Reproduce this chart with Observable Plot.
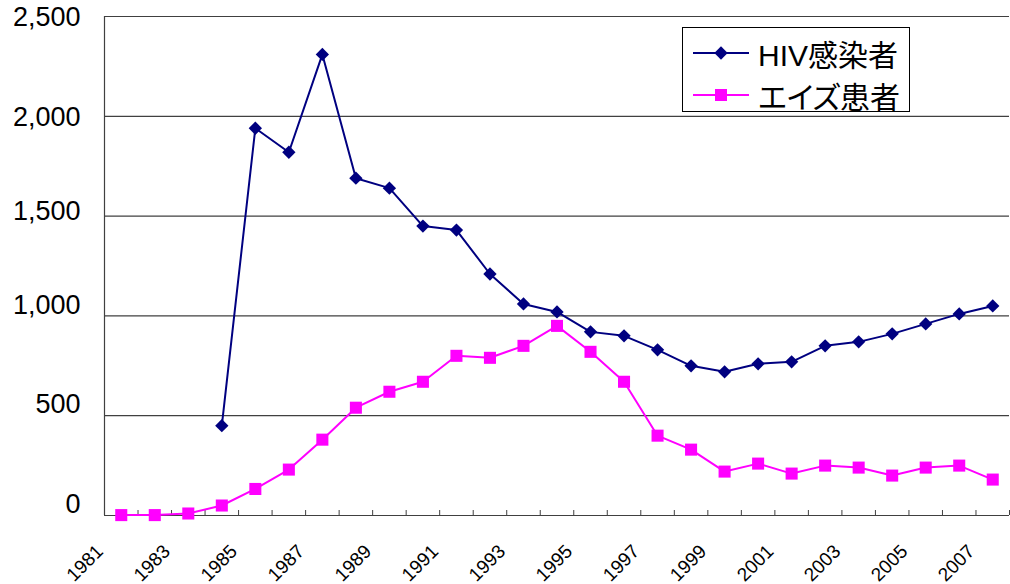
<!DOCTYPE html>
<html><head><meta charset="utf-8">
<script src="https://cdn.jsdelivr.net/npm/d3@7"></script>
<script src="https://cdn.jsdelivr.net/npm/@observablehq/plot@0.6"></script>
<style>
body{margin:0;background:#fff;}
#wrap{position:relative;width:1010px;height:584px;font-family:"Liberation Sans",Arial,"Noto Sans CJK JP",sans-serif;}
#legend{position:absolute;left:682px;top:27px;width:226px;height:83px;border:1px solid #000;background:#fff;box-sizing:content-box;}
.row{position:absolute;left:10px;height:36px;display:flex;align-items:center;font-size:30px;color:#000;white-space:nowrap;}
.row span{margin-left:9px;font-family:"Liberation Sans","Noto Sans CJK JP",sans-serif;font-feature-settings:"palt";}
</style></head>
<body>
<div id="wrap"><div id="chart"></div><div id="legend"></div></div>
<script>
const years = [1981,1982,1983,1984,1985,1986,1987,1988,1989,1990,1991,1992,1993,1994,1995,1996,1997,1998,1999,2000,2001,2002,2003,2004,2005,2006,2007];
const hivYears = [1984,1985,1986,1987,1988,1989,1990,1991,1992,1993,1994,1995,1996,1997,1998,1999,2000,2001,2002,2003,2004,2005,2006,2007];
const hivValues = [450,1940,1820,2310,1690,1640,1450,1430,1210,1060,1020,920,900,830,750,720,760,770,850,870,910,960,1010,1050];
const aidsValues = [2,2,10,50,133,230,380,540,620,670,800,790,850,950,820,670,400,330,220,260,210,250,240,200,240,250,180];
const seriesNames = ["HIV感染者","エイズ患者"];
const seriesColors = ["#000080","#FF00FF"];
const seriesSymbols = ["diamond2","square"];
const yTicks = [0,500,1000,1500,2000,2500];
const yTicksUpper = [2000,2500];
const yTicksMid = [1500];
const yTicksLower = [0,500,1000];
const xLabelYears = [1981,1983,1985,1987,1989,1991,1993,1995,1997,1999,2001,2003,2005,2007];

const hiv = hivYears.map((y,i)=>({year:y,value:hivValues[i]}));
const aids = years.map((y,i)=>({year:y,value:aidsValues[i]}));
const xDomain = [years[0]-0.5, years[years.length-1]+0.5];
const xTickPos = d3.range(years.length+1).map(i=>xDomain[0]+i);
const yAxisOpts = {label:null, tickSize:0, tickPadding:24, fontSize:27, tickFormat:d3.format(",")};

const chart = Plot.plot({
  width:1010, height:584,
  marginLeft:104, marginRight:1, marginTop:16, marginBottom:69,
  style:{fontFamily:'"Liberation Sans", Arial, sans-serif', background:"#fff", color:"#000"},
  x:{type:"linear", domain:xDomain, axis:null},
  y:{domain:[0,2500], axis:null},
  marks:[
    Plot.ruleY(yTicks,{y:d=>d, stroke:"#404040", strokeWidth:1.2}),
    Plot.ruleX([xDomain[0]],{x:d=>d, stroke:"#404040", strokeWidth:1.2}),
    Plot.axisY(yTicksUpper,{...yAxisOpts, dy:1}),
    Plot.axisY(yTicksMid,{...yAxisOpts, dy:-5}),
    Plot.axisY(yTicksLower,{...yAxisOpts, dy:-11}),
    Plot.axisX(xTickPos,{label:null, tickSize:5, dy:-5, tickFormat:()=>"", stroke:"#404040"}),
    Plot.text(xLabelYears,{x:d=>d, text:d=>String(d), frameAnchor:"bottom", rotate:-45, textAnchor:"end", lineAnchor:"bottom", fontSize:19, dx:-17, dy:37, fill:"#000"}),
    Plot.line(aids,{x:"year", y:"value", stroke:seriesColors[1], strokeWidth:2}),
    Plot.dot(aids,{x:"year", y:"value", symbol:seriesSymbols[1], r:6.8, fill:seriesColors[1]}),
    Plot.line(hiv,{x:"year", y:"value", stroke:seriesColors[0], strokeWidth:2}),
    Plot.dot(hiv,{x:"year", y:"value", symbol:seriesSymbols[0], r:6, fill:seriesColors[0]})
  ]
});
document.getElementById("chart").appendChild(chart);

const legend = document.getElementById("legend");
seriesNames.forEach((name,i)=>{
  const row = document.createElement("div");
  row.className="row";
  row.style.top = (7 + i*42) + "px";
  const sym = d3.symbol(i===0?d3.symbolDiamond2:d3.symbolSquare, i===0?113:145)();
  row.innerHTML = `<svg width="56" height="20"><line x1="0" x2="56" y1="10" y2="10" stroke="${seriesColors[i]}" stroke-width="2"/><path d="${sym}" transform="translate(28,10)" fill="${seriesColors[i]}"/></svg><span>${name}</span>`;
  legend.appendChild(row);
});
</script>
</body></html>
